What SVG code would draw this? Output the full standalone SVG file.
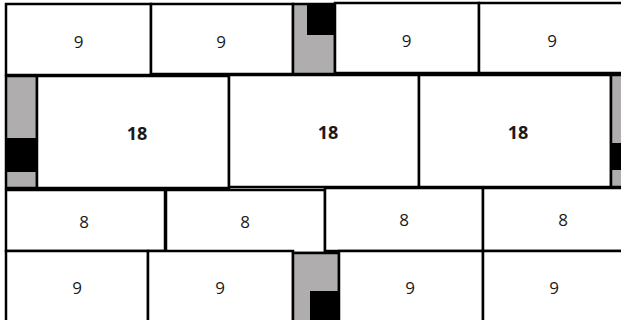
<svg xmlns="http://www.w3.org/2000/svg" width="621" height="320" viewBox="0 0 621 320">
<style>
.c{fill:#fff;stroke:#000;stroke-width:2.5}
.g{fill:#afadad;stroke:#000;stroke-width:2.5}
.k{fill:#000}
.t{font-family:"Open Sans","DejaVu Sans",sans-serif;font-size:17px;fill:#1a1a1a;text-anchor:middle}
.b{font-weight:bold;font-size:18px}
</style>
<rect width="621" height="320" fill="#fff"/>
<g id="row1">
<g id="a1"><rect class="c" x="6" y="4" width="145" height="71"/><text class="t" x="78.5" y="48">9</text></g>
<g id="a2"><rect class="c" x="151" y="4" width="142" height="70"/><text class="t" x="221" y="48">9</text></g>
<g id="g1"><rect class="g" x="293" y="4" width="42" height="70"/><rect class="k" x="307" y="4" width="28" height="31"/></g>
<g id="a3"><rect class="c" x="335" y="3" width="144" height="70"/><text class="t" x="406.5" y="47">9</text></g>
<g id="a4"><rect class="c" x="479" y="3" width="144" height="70"/><text class="t" x="552" y="47">9</text></g>
</g>
<g id="row2">
<g id="g2"><rect class="g" x="6" y="76" width="31" height="112"/><rect class="k" x="6" y="138" width="31" height="34"/></g>
<g id="b1"><rect class="c" x="37" y="76" width="192" height="112"/><text class="t b" x="137" y="140">18</text></g>
<g id="b2"><rect class="c" x="229" y="75" width="190" height="112"/><text class="t b" x="328" y="139">18</text></g>
<g id="b3"><rect class="c" x="419" y="75" width="192" height="112"/><text class="t b" x="518" y="139">18</text></g>
<g id="g3"><rect class="g" x="611" y="75" width="12" height="112"/><rect class="k" x="611" y="143" width="12" height="27"/></g>
</g>
<g id="row3">
<g id="c1"><rect class="c" x="6" y="190" width="159" height="61"/><text class="t" x="84" y="228">8</text></g>
<g id="c2"><rect class="c" x="166" y="190" width="159" height="63"/><text class="t" x="245" y="228">8</text></g>
<g id="c3"><rect class="c" x="325" y="188" width="158" height="63"/><text class="t" x="404" y="226">8</text></g>
<g id="c4"><rect class="c" x="483" y="188" width="140" height="63"/><text class="t" x="563" y="226">8</text></g>
</g>
<g id="row4">
<g id="d1"><rect class="c" x="6" y="251" width="142" height="72"/><text class="t" x="77" y="294">9</text></g>
<g id="d2"><rect class="c" x="148" y="251" width="145" height="72"/><text class="t" x="220" y="294">9</text></g>
<g id="g4"><rect class="g" x="293" y="253" width="46" height="70"/><rect class="k" x="310" y="291" width="29" height="32"/></g>
<g id="d3"><rect class="c" x="339" y="251" width="144" height="72"/><text class="t" x="410" y="294">9</text></g>
<g id="d4"><rect class="c" x="483" y="251" width="140" height="72"/><text class="t" x="554" y="294">9</text></g>
</g>
</svg>
